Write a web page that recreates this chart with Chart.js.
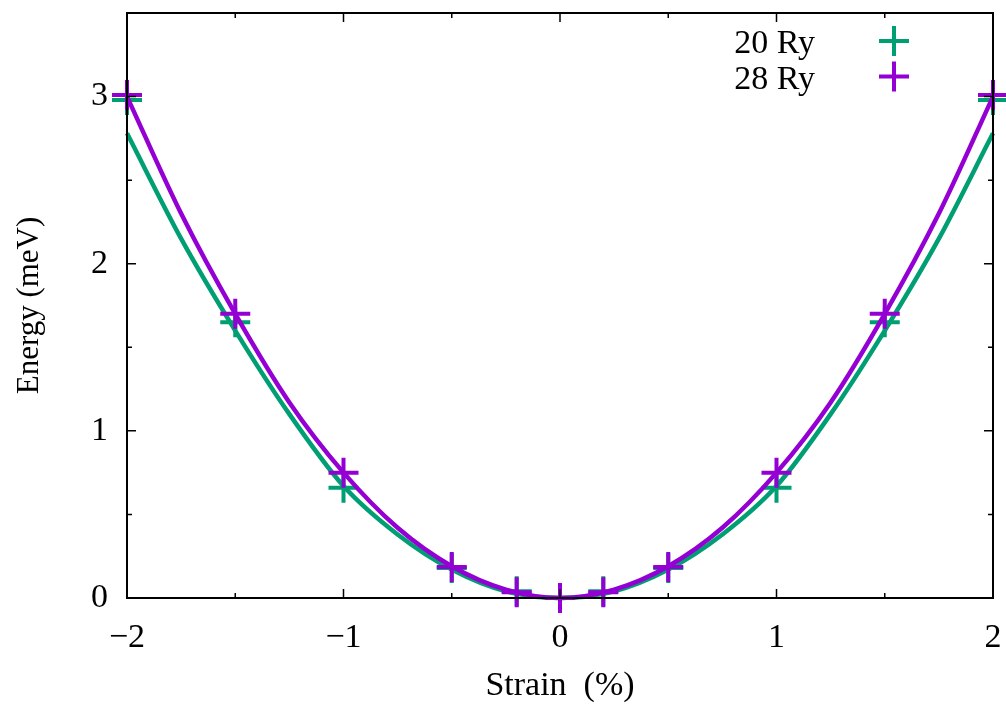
<!DOCTYPE html>
<html>
<head>
<style>
    body { margin: 0; background: #fff; }
</style>
</head>
<body>
<canvas id="chart" width="1006" height="706"></canvas>

<script src="https://cdn.jsdelivr.net/npm/chart.js@4.4.0/dist/chart.umd.min.js"></script>
<script>
    // measured points
    const strain = [-2, -1.5, -1, -0.5, -0.2, 0, 0.2, 0.5, 1, 1.5, 2];
    const energy20 = [2.98, 1.65, 0.66, 0.18, 0.04, 0.0, 0.04, 0.18, 0.66, 1.65, 2.98];
    const energy28 = [3.01, 1.70, 0.75, 0.185, 0.035, 0.0, 0.035, 0.185, 0.75, 1.70, 3.01];

    // fitted curves
    const fitX = [-2, -1.75, -1.5, -1.25, -1, -0.75, -0.5, -0.25, 0, 0.25, 0.5, 0.75, 1, 1.25, 1.5, 1.75, 2];
    const fit20 = [2.78, 2.15, 1.60, 1.10, 0.67, 0.38, 0.17, 0.04, 0, 0.04, 0.17, 0.38, 0.67, 1.10, 1.60, 2.15, 2.78];
    const fit28 = [3.00, 2.30, 1.70, 1.17, 0.75, 0.42, 0.19, 0.05, 0, 0.05, 0.19, 0.42, 0.75, 1.17, 1.70, 2.30, 3.00];

    const seriesNames = ['20 Ry', '28 Ry'];
    const xTicks = [-2, -1, 0, 1, 2];
    const xMinor = [-1.5, -0.5, 0.5, 1.5];
    const yTicks = [0, 1, 2, 3];
    const yMinor = [0.5, 1.5, 2.5];

    const green = '#009e73';
    const purple = '#9400d3';
    const font = '"Liberation Serif", "Times New Roman", serif';

    const pts = (xs, ys) => xs.map((x, i) => ({ x: x, y: ys[i] }));

    // border box with inward ticks, gnuplot style
    const frame = {
        id: 'frame',
        afterDatasetsDraw(chart) {
            const ctx = chart.ctx;
            const a = chart.chartArea;
            const xs = chart.scales.x, ys = chart.scales.y;
            ctx.save();
            ctx.strokeStyle = '#000';
            ctx.lineWidth = 1.5;
            ctx.beginPath();
            const tick = (v, len, horiz) => {
                if (horiz) {
                    const p = xs.getPixelForValue(v);
                    ctx.moveTo(p, a.bottom); ctx.lineTo(p, a.bottom - len);
                    ctx.moveTo(p, a.top); ctx.lineTo(p, a.top + len);
                } else {
                    const p = ys.getPixelForValue(v);
                    ctx.moveTo(a.left, p); ctx.lineTo(a.left + len, p);
                    ctx.moveTo(a.right, p); ctx.lineTo(a.right - len, p);
                }
            };
            xTicks.forEach(v => tick(v, 9, true));
            xMinor.forEach(v => tick(v, 5, true));
            yTicks.forEach(v => tick(v, 9, false));
            yMinor.forEach(v => tick(v, 5, false));
            ctx.stroke();
            ctx.lineWidth = 2;
            ctx.strokeRect(a.left, a.top, a.right - a.left, a.bottom - a.top);
            ctx.restore();
        }
    };

    // key in the top right corner, text left of the symbol
    const key = {
        id: 'key',
        afterDraw(chart) {
            const ctx = chart.ctx;
            const colors = [green, purple];
            ctx.save();
            ctx.font = '34px ' + font;
            ctx.textAlign = 'right';
            ctx.textBaseline = 'alphabetic';
            ctx.fillStyle = '#000';
            seriesNames.forEach((name, i) => {
                const y = 41 + i * 35.5;
                ctx.fillText(name, 815, y + 12);
                ctx.strokeStyle = colors[i];
                ctx.lineWidth = 4;
                ctx.beginPath();
                ctx.moveTo(879, y); ctx.lineTo(909, y);
                ctx.moveTo(894, y - 15); ctx.lineTo(894, y + 15);
                ctx.stroke();
            });
            ctx.restore();
        }
    };

    const ctx = document.getElementById('chart').getContext('2d');
    new Chart(ctx, {
        type: 'scatter',
        data: {
            datasets: [
                {
                    label: seriesNames[1] + ' fit',
                    data: pts(fitX, fit28),
                    showLine: true,
                    borderColor: purple,
                    borderWidth: 4.5,
                    pointRadius: 0,
                    cubicInterpolationMode: 'monotone',
                    clip: false,
                    order: 0
                },
                {
                    label: seriesNames[1],
                    data: pts(strain, energy28),
                    pointStyle: 'cross',
                    pointRadius: 15,
                    pointBorderWidth: 4,
                    borderColor: purple,
                    backgroundColor: purple,
                    clip: false,
                    order: 1
                },
                {
                    label: seriesNames[0] + ' fit',
                    data: pts(fitX, fit20),
                    showLine: true,
                    borderColor: green,
                    borderWidth: 4.5,
                    pointRadius: 0,
                    cubicInterpolationMode: 'monotone',
                    clip: false,
                    order: 2
                },
                {
                    label: seriesNames[0],
                    data: pts(strain, energy20),
                    pointStyle: 'cross',
                    pointRadius: 15,
                    pointBorderWidth: 4,
                    borderColor: green,
                    backgroundColor: green,
                    clip: false,
                    order: 3
                }
            ]
        },
        options: {
            responsive: false,
            devicePixelRatio: 1,
            animation: false,
            layout: { autoPadding: false, padding: { left: 0, top: 13, right: 13, bottom: 0 } },
            plugins: {
                legend: { display: false },
                tooltip: { enabled: false }
            },
            scales: {
                x: {
                    type: 'linear',
                    min: -2,
                    max: 2,
                    grid: { display: false, drawTicks: false },
                    border: { display: false },
                    afterBuildTicks: s => { s.ticks = xTicks.map(v => ({ value: v })); },
                    afterFit: s => {
                        s.height = 108;
                        s.paddingLeft = 0;
                        s.paddingRight = 0;
                    },
                    ticks: {
                        color: '#000',
                        padding: 20,
                        maxRotation: 0,
                        font: { family: font, size: 34 },
                        callback: v => String(v).replace('-', '\u2212')
                    },
                    title: {
                        display: true,
                        text: 'Strain  (%)',
                        color: '#000',
                        padding: { top: 0, bottom: 0 },
                        font: { family: font, size: 34 }
                    }
                },
                y: {
                    type: 'linear',
                    min: 0,
                    max: 3.5,
                    grid: { display: false, drawTicks: false },
                    border: { display: false },
                    afterBuildTicks: s => { s.ticks = yTicks.map(v => ({ value: v })); },
                    afterFit: s => {
                        s.width = 127;
                        s.paddingTop = 0;
                        s.paddingBottom = 0;
                    },
                    ticks: {
                        color: '#000',
                        padding: 19,
                        font: { family: font, size: 34 }
                    },
                    title: {
                        display: true,
                        text: 'Energy (meV)',
                        color: '#000',
                        padding: 11,
                        font: { family: font, size: 31 }
                    }
                }
            }
        },
        plugins: [frame, key]
    });
</script>
</body>
</html>
